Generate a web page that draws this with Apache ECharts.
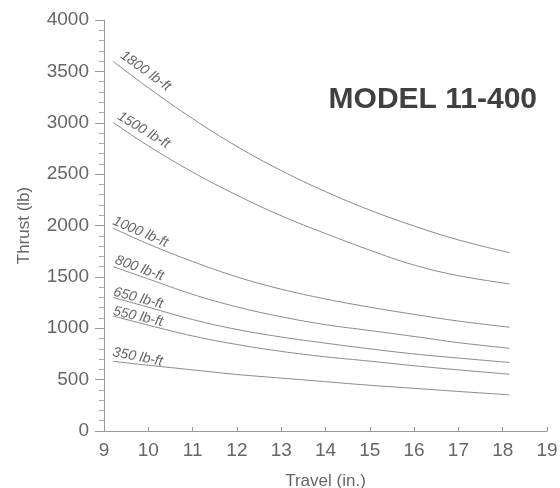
<!DOCTYPE html>
<html>
<head>
<meta charset="utf-8">
<title>Model 11-400</title>
<script src="https://cdn.jsdelivr.net/npm/echarts@6/dist/echarts.min.js"></script>
<style>
  html, body { margin: 0; padding: 0; background: #fff; }
  #main { width: 560px; height: 488px; }
</style>
</head>
<body>
<div id="main"></div>
<script>
// travel (in.) where the curves were read
var travel = [9.2, 10, 11, 12, 13, 14, 15, 16, 17, 18.15];

// thrust (lb) for each torque rating
var t1800 = [3600, 3340, 3040, 2770, 2535, 2330, 2150, 1995, 1860, 1735];
var t1500 = [3005, 2775, 2520, 2295, 2095, 1922, 1760, 1615, 1512, 1432];
var t1000 = [1975, 1820, 1650, 1500, 1380, 1285, 1205, 1135, 1070, 1010];
var t800  = [1600, 1480, 1330, 1208, 1112, 1035, 978, 920, 860, 805];
var t650  = [1300, 1205, 1085, 988, 915, 855, 800, 750, 710, 667];
var t550  = [1120, 1030, 925, 842, 775, 722, 680, 635, 595, 553];
var t350  = [678, 640, 595, 550, 515, 480, 445, 415, 385, 352];

var curveNames = ['1800 lb-ft', '1500 lb-ft', '1000 lb-ft', '800 lb-ft', '650 lb-ft', '550 lb-ft', '350 lb-ft'];
var curveData = [t1800, t1500, t1000, t800, t650, t550, t350];
// label slant (degrees) and vertical nudge for each curve
var labelRot = [-36, -31, -23, -20, -15, -13, -11];
var labelLift = [-12, -11, -8, -7, -6, -6, -6];

var yTicks = [0, 500, 1000, 1500, 2000, 2500, 3000, 3500, 4000];

var font = 'Liberation Sans, Arial, sans-serif';
var myChart = echarts.init(document.getElementById('main'));

var series = curveData.map(function(vals, i){
    return {
        name: curveNames[i],
        type: 'line',
        smooth: 0.4,
        symbol: 'none',
        lineStyle: { color: '#8a8a8a', width: 1 },
        data: travel.map(function(x, k){ return [x, vals[k]]; }),
        markPoint: {
            symbol: 'circle',
            symbolSize: 0,
            silent: true,
            data: [{ coord: [travel[1], vals[1]], name: curveNames[i] }],
            label: {
                show: true,
                formatter: '{b}',
                fontFamily: font,
                fontStyle: 'italic',
                fontSize: 14,
                color: '#666',
                rotate: labelRot[i],
                offset: [-12, labelLift[i]]
            }
        }
    };
});

var option = {
    animation: false,
    backgroundColor: '#fff',
    title: {
        text: 'MODEL 11-400',
        right: 18,
        top: 80,
        textStyle: { fontFamily: font, fontWeight: 'bold', fontSize: 30, color: '#404040' }
    },
    grid: { left: 104, right: 13, top: 20, bottom: 57, outerBoundsMode: 'none' },
    xAxis: {
        type: 'value',
        min: 9,
        max: 19,
        interval: 1,
        name: 'Travel (in.)',
        nameLocation: 'middle',
        nameGap: 42,
        nameTextStyle: { fontFamily: font, fontSize: 17, color: '#666' },
        axisLine: { lineStyle: { color: '#999' } },
        axisTick: { inside: true, length: 4, lineStyle: { color: '#999' } },
        axisLabel: { fontFamily: font, fontSize: 19, color: '#666', margin: 10 },
        splitLine: { show: false }
    },
    yAxis: {
        type: 'value',
        min: yTicks[0],
        max: yTicks[yTicks.length - 1],
        interval: 500,
        name: 'Thrust (lb)',
        nameLocation: 'middle',
        nameGap: 71,
        nameTextStyle: { fontFamily: font, fontSize: 17, color: '#666' },
        axisLine: { show: true, lineStyle: { color: '#999' } },
        axisTick: { length: 9, lineStyle: { color: '#999' } },
        minorTick: { show: true, splitNumber: 5, length: 5, lineStyle: { color: '#aaa' } },
        axisLabel: {
            fontFamily: font, fontSize: 19, color: '#666', margin: 15,
            formatter: function(v){ return String(v); }
        },
        splitLine: { show: false }
    },
    series: series
};

myChart.setOption(option);
</script>
</body>
</html>
